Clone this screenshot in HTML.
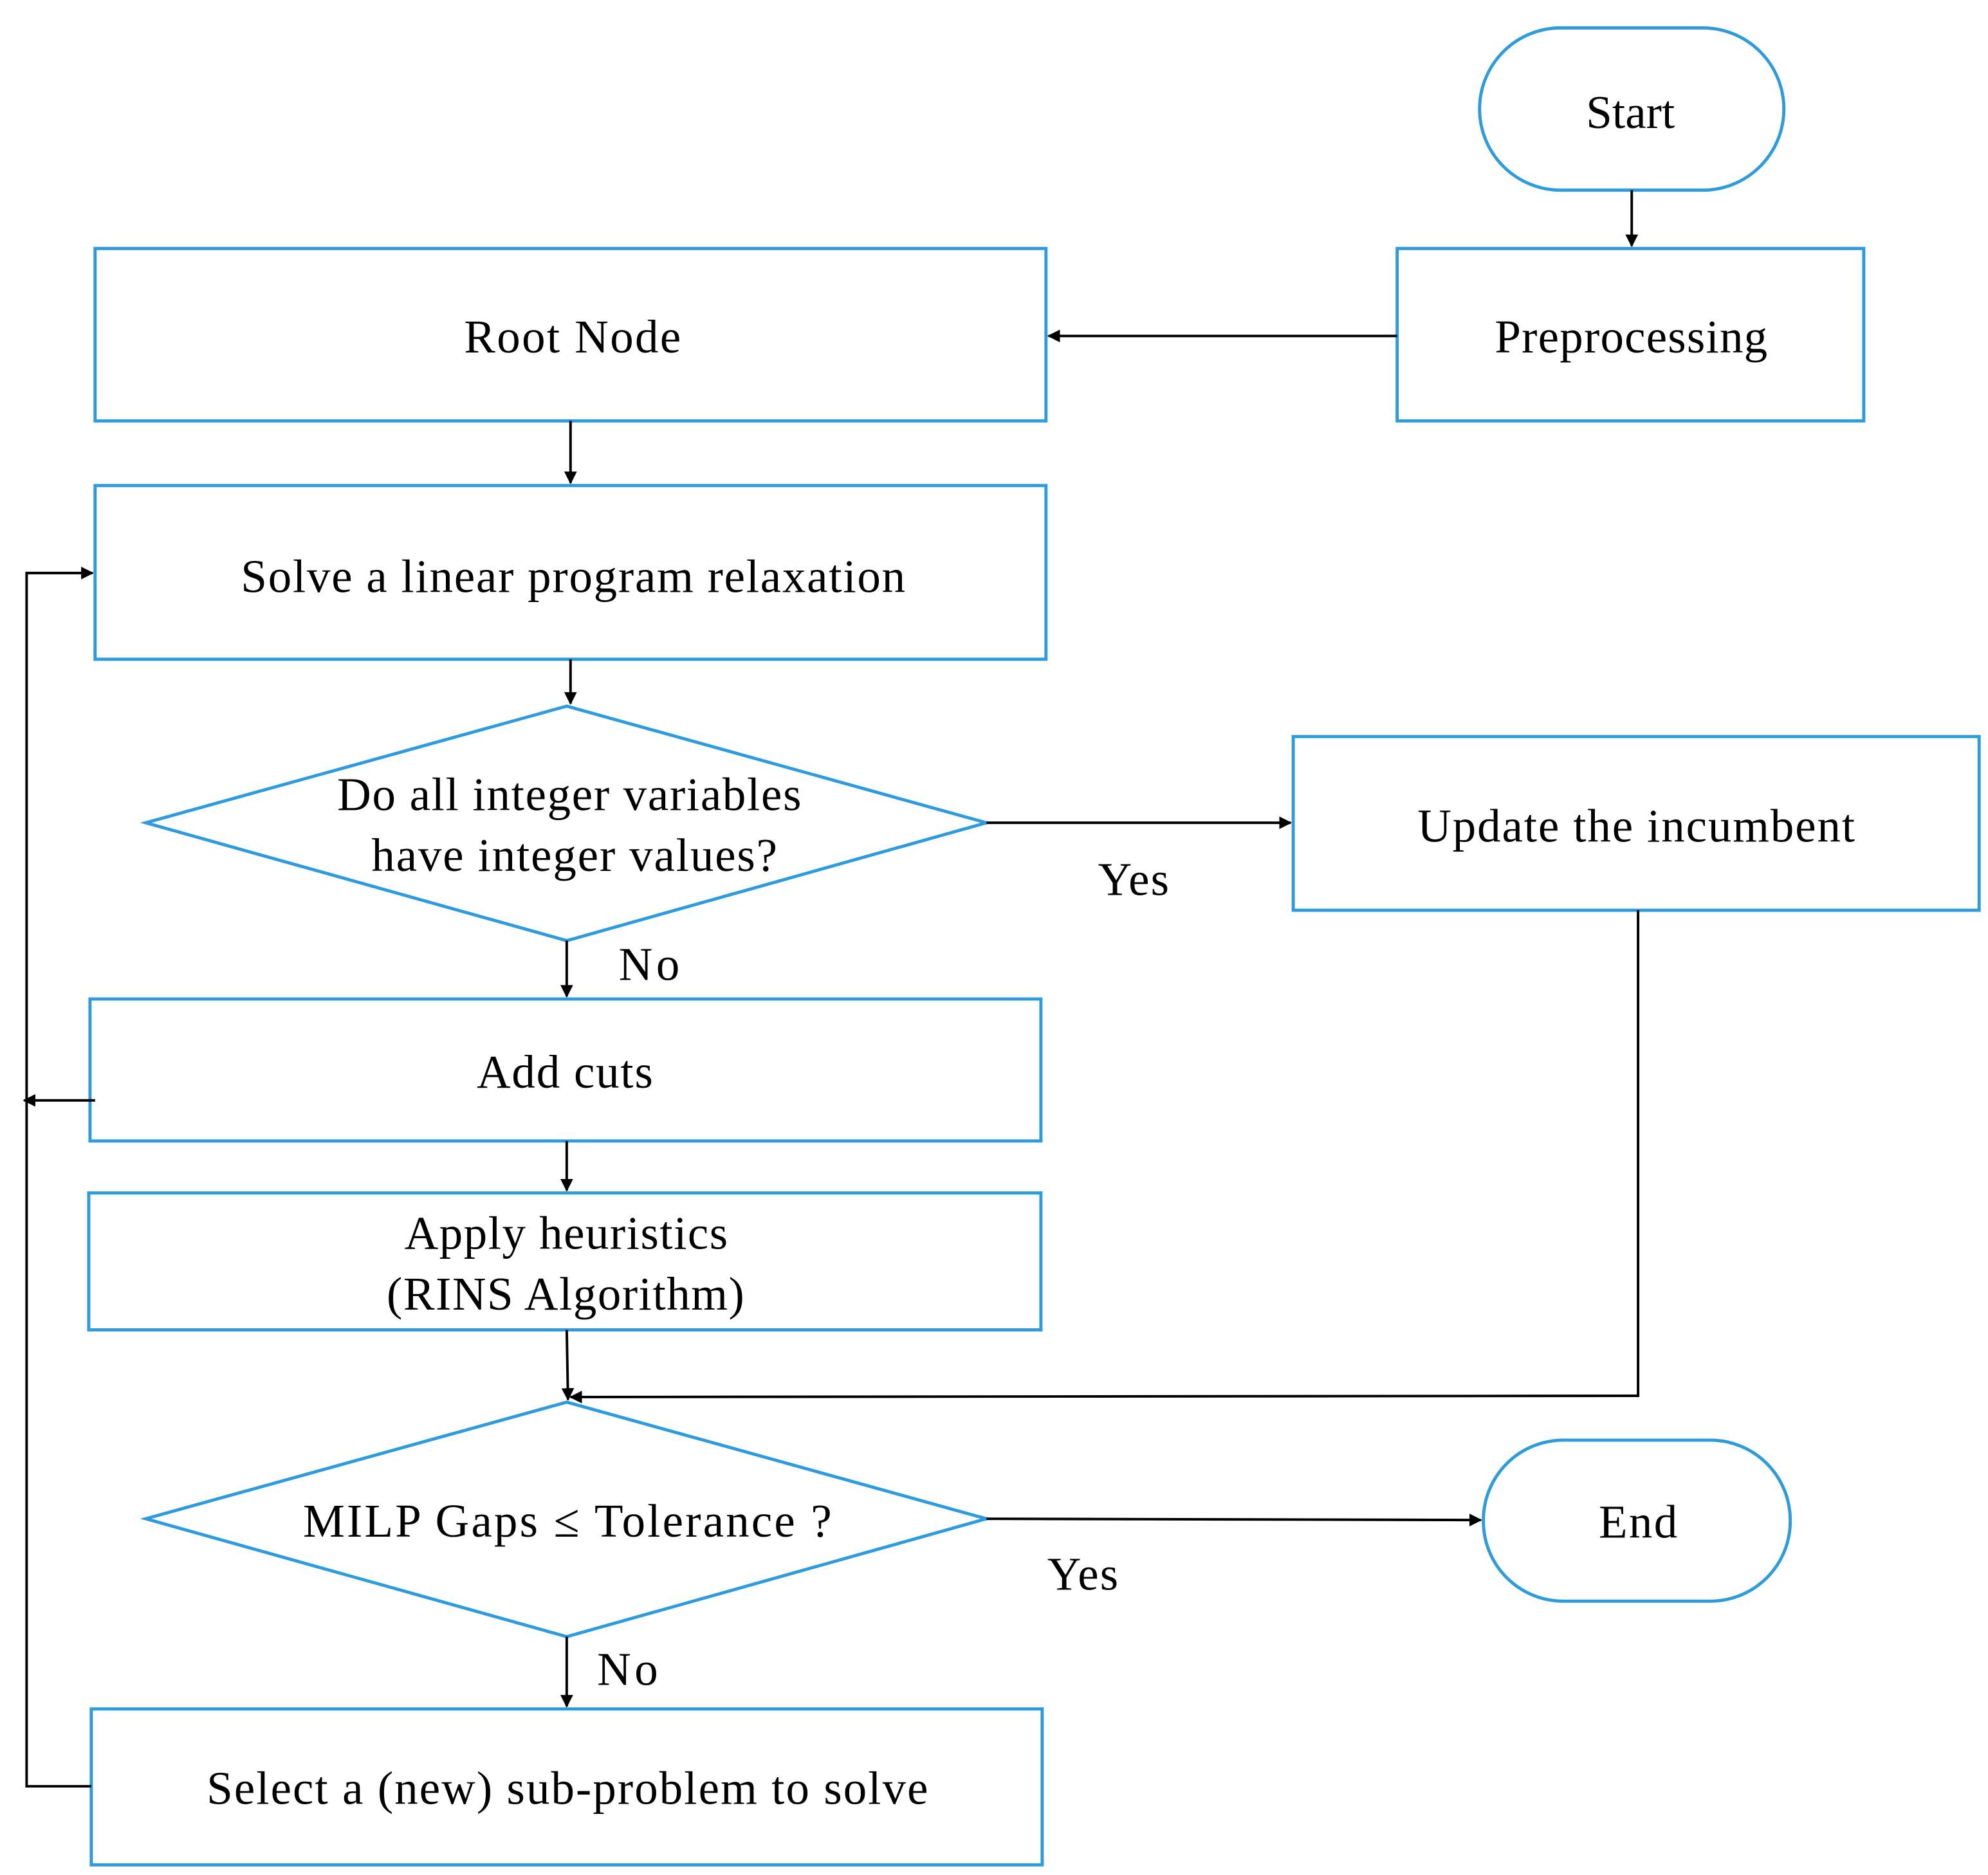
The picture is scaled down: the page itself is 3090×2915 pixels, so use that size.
<!DOCTYPE html>
<html><head><meta charset="utf-8"><style>
html,body{margin:0;padding:0;background:#fff;}
svg{display:block;}
text{font-family:"Liberation Serif",serif;font-size:37px;fill:#000;}
</style></head><body>
<svg width="3090" height="2915" viewBox="0 0 1568 1479" preserveAspectRatio="none" xmlns="http://www.w3.org/2000/svg">
<defs><marker id="a" markerWidth="10" markerHeight="10" refX="9" refY="5" orient="auto" markerUnits="userSpaceOnUse"><path d="M0,0 L10,5 L0,10 Z" fill="#000"/></marker></defs>
<g fill="none" stroke="#2e9bdc" stroke-width="2.5">
<rect x="1167" y="22" width="240" height="128" rx="64" ry="64"/>
<rect x="1102" y="196" width="368" height="136"/>
<rect x="75" y="196" width="750" height="136"/>
<rect x="75" y="383" width="750" height="137"/>
<polygon points="115,649 447,557 778,649 447,742"/>
<rect x="1020" y="581" width="541" height="137"/>
<rect x="71" y="788" width="750" height="112"/>
<rect x="70" y="941" width="751" height="108"/>
<polygon points="115,1198 447,1106 778,1198 447,1291"/>
<rect x="1170" y="1136" width="242" height="127" rx="63" ry="63"/>
<rect x="72" y="1348" width="750" height="123"/>
</g>
<g fill="none" stroke="#000" stroke-width="2">
<line x1="1287" y1="150" x2="1287" y2="194" marker-end="url(#a)"/>
<line x1="1102" y1="265" x2="827" y2="265" marker-end="url(#a)"/>
<line x1="450" y1="332" x2="450" y2="381" marker-end="url(#a)"/>
<line x1="450" y1="520" x2="450" y2="555" marker-end="url(#a)"/>
<line x1="778" y1="649" x2="1018" y2="649" marker-end="url(#a)"/>
<line x1="447" y1="742" x2="447" y2="786" marker-end="url(#a)"/>
<line x1="447" y1="900" x2="447" y2="939" marker-end="url(#a)"/>
<line x1="447" y1="1049" x2="448" y2="1104" marker-end="url(#a)"/>
<polyline points="1292,718 1292,1101 450,1102" marker-end="url(#a)"/>
<line x1="778" y1="1198" x2="1168" y2="1199" marker-end="url(#a)"/>
<line x1="447" y1="1291" x2="447" y2="1346" marker-end="url(#a)"/>
<line x1="75" y1="868" x2="19" y2="868" marker-end="url(#a)"/>
<polyline points="72,1409 21,1409 21,452 73,452" marker-end="url(#a)"/>
</g>
<g lengthAdjust="spacing">
<text x="1251" y="101" textLength="70" lengthAdjust="spacing">Start</text>
<text x="1179" y="278" textLength="215" lengthAdjust="spacing">Preprocessing</text>
<text x="366" y="278" textLength="171" lengthAdjust="spacing">Root Node</text>
<text x="190" y="467" textLength="524" lengthAdjust="spacing">Solve a linear program relaxation</text>
<text x="266" y="639" textLength="366" lengthAdjust="spacing">Do all integer variables</text>
<text x="293" y="687" textLength="320" lengthAdjust="spacing">have integer values?</text>
<text x="1118" y="664" textLength="345" lengthAdjust="spacing">Update the incumbent</text>
<text x="376" y="858" textLength="139" lengthAdjust="spacing">Add cuts</text>
<text x="319" y="985" textLength="255" lengthAdjust="spacing">Apply heuristics</text>
<text x="305" y="1033" textLength="282" lengthAdjust="spacing">(RINS Algorithm)</text>
<text x="239" y="1212" textLength="417" lengthAdjust="spacing">MILP Gaps ≤ Tolerance ?</text>
<text x="1261" y="1213" textLength="62" lengthAdjust="spacing">End</text>
<text x="163" y="1423" textLength="569" lengthAdjust="spacing">Select a (new) sub-problem to solve</text>
<text x="866" y="706" textLength="56" lengthAdjust="spacing">Yes</text>
<text x="488" y="773" textLength="48" lengthAdjust="spacing">No</text>
<text x="826" y="1254" textLength="56" lengthAdjust="spacing">Yes</text>
<text x="471" y="1329" textLength="48" lengthAdjust="spacing">No</text>
</g>
</svg>
</body></html>
